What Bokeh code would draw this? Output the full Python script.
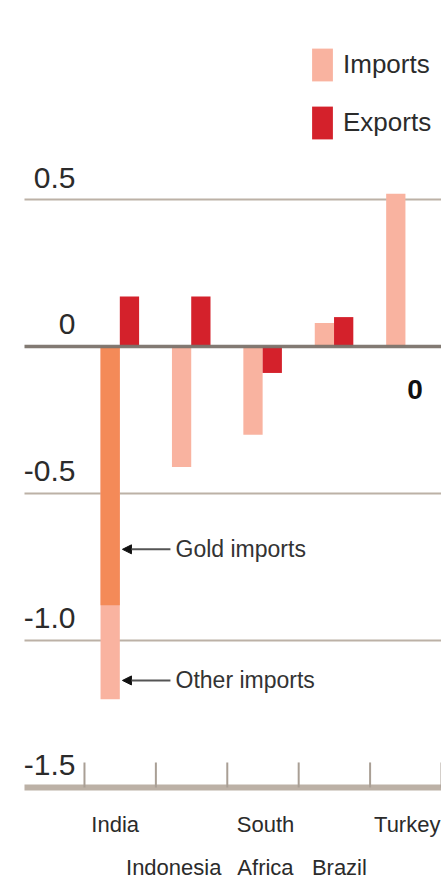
from bokeh.plotting import figure
from bokeh.models import ColumnDataSource, Range1d, Legend, LegendItem, Arrow, NormalHead
from bokeh.embed import file_html
from bokeh.resources import INLINE
from bokeh.core.properties import value

# ---- data ----
categories = ["India", "Indonesia", "South Africa", "Brazil", "Turkey"]
imports = [-1.20, -0.41, -0.30, 0.08, 0.52]
exports = [0.17, 0.17, -0.09, 0.10, 0.0]
india_gold_imports = -0.88
y_ticks = [0.5, 0.0, -0.5, -1.0, -1.5]
y_tick_labels = ["0.5", "0", "-0.5", "-1.0", "-1.5"]
label_row1 = ["India", "", "South", "", "Turkey"]
label_row2 = ["", "Indonesia", "Africa", "Brazil", ""]
gold_note = "Gold imports"
other_note = "Other imports"

# ---- style ----
FONT = "Liberation Sans"
IMP_COL = "#F9B3A0"
EXP_COL = "#D4212B"
GOLD_COL = "#F48A58"
GRID_COL = "#BCB1A6"
ZERO_COL = "#7B736C"
TXT = "#2b2b2b"
IMP_OFF, EXP_OFF, BAR_W = 0.36, 0.63, 0.27
label_shift = [-0.07, -0.25, 0.035, 0.07, 0.02]
X_LEFT = -0.84
LABEL_X = -0.126

n = len(categories)
idx = list(range(n))

p = figure(width=441, height=886, x_range=Range1d(-1.176, 5.0), y_range=Range1d(-1.837, 1.177),
           output_backend="svg", toolbar_location=None, x_axis_type=None, y_axis_type=None,
           min_border=0, outline_line_color=None)
p.xgrid.visible = False
p.ygrid.visible = False

# gridlines (zero line and bottom axis drawn separately)
mid = [t for t in y_ticks if t not in (0.0, y_ticks[-1])]
grid_src = ColumnDataSource(dict(x0=[X_LEFT] * len(mid), x1=[n] * len(mid), y=mid))
p.segment(x0="x0", x1="x1", y0="y", y1="y", source=grid_src, line_color=GRID_COL, line_width=2)

# bars
src = ColumnDataSource(dict(
    xi=[i + IMP_OFF for i in idx], xe=[i + EXP_OFF for i in idx],
    imp=imports, exp=exports))
r_imp = p.vbar(x="xi", top="imp", bottom=0, width=BAR_W, source=src, fill_color=IMP_COL, line_color=None)
r_exp = p.vbar(x="xe", top="exp", bottom=0, width=BAR_W, source=src, fill_color=EXP_COL, line_color=None)
gold_src = ColumnDataSource(dict(x=[categories.index("India") + IMP_OFF], b=[india_gold_imports]))
p.vbar(x="x", top=0, bottom="b", width=BAR_W, source=gold_src, fill_color=GOLD_COL, line_color=None)

# zero line and bottom axis
p.segment(x0=[X_LEFT], x1=[n], y0=[0.0], y1=[0.0], line_color=ZERO_COL, line_width=3.5, line_alpha=0.95)
p.segment(x0=[X_LEFT], x1=[n], y0=[y_ticks[-1]], y1=[y_ticks[-1]], line_color=GRID_COL, line_width=6)
tick_src = ColumnDataSource(dict(x=list(range(n + 1)), y0=[y_ticks[-1]] * (n + 1),
                                 y1=[y_ticks[-1] + 0.085] * (n + 1)))
p.segment(x0="x", x1="x", y0="y0", y1="y1", source=tick_src, line_color="#A99F95", line_width=2)

# y tick labels
ylab = ColumnDataSource(dict(x=[LABEL_X] * len(y_ticks), y=y_ticks, t=y_tick_labels))
p.text(x="x", y="y", text="t", source=ylab, text_align="right", text_baseline="alphabetic",
       y_offset=-22, text_font=value(FONT), text_font_size="30px", text_color=TXT)

# category labels
xs = [i + 0.5 + s for i, s in zip(idx, label_shift)]
c1 = ColumnDataSource(dict(x=xs, y=[y_ticks[-1]] * n, t=label_row1))
c2 = ColumnDataSource(dict(x=xs, y=[y_ticks[-1]] * n, t=label_row2))
for s, off in ((c1, 37), (c2, 80)):
    p.text(x="x", y="y", text="t", source=s, text_align="center", text_baseline="alphabetic",
           y_offset=off, text_font=value(FONT), text_font_size="22px", text_color=TXT)

# zero value marker
zx = [i + EXP_OFF for i, v in zip(idx, exports) if v == 0]
p.text(x=zx, y=[0.0] * len(zx), text=["0"] * len(zx), text_align="center", text_baseline="alphabetic",
       y_offset=43, text_font=value(FONT), text_font_style="bold", text_font_size="28px",
       text_color="#111111")

# annotations
ann_y = [-0.69, -1.136]
for yy, txt in zip(ann_y, [gold_note, other_note]):
    p.add_layout(Arrow(end=NormalHead(size=9, fill_color="#111111", line_color="#111111"),
                       x_start=1.204, y_start=yy, x_end=0.532, y_end=yy,
                       line_color="#555555", line_width=2))
    p.text(x=[1.275], y=[yy], text=[txt], text_align="left", text_baseline="middle",
           text_font=value(FONT), text_font_size="23px", text_color="#333333")

legend = Legend(items=[LegendItem(label="Imports", renderers=[r_imp]),
                       LegendItem(label="Exports", renderers=[r_exp])],
                location=(309, 743), orientation="vertical", glyph_width=26, glyph_height=41,
                label_height=41, spacing=17, padding=0, margin=0, label_standoff=8,
                border_line_color=None, background_fill_alpha=0,
                label_text_font=FONT, label_text_font_size="26px", label_text_color=TXT)
p.add_layout(legend)

open("out.html", "w").write(file_html(p, INLINE))
